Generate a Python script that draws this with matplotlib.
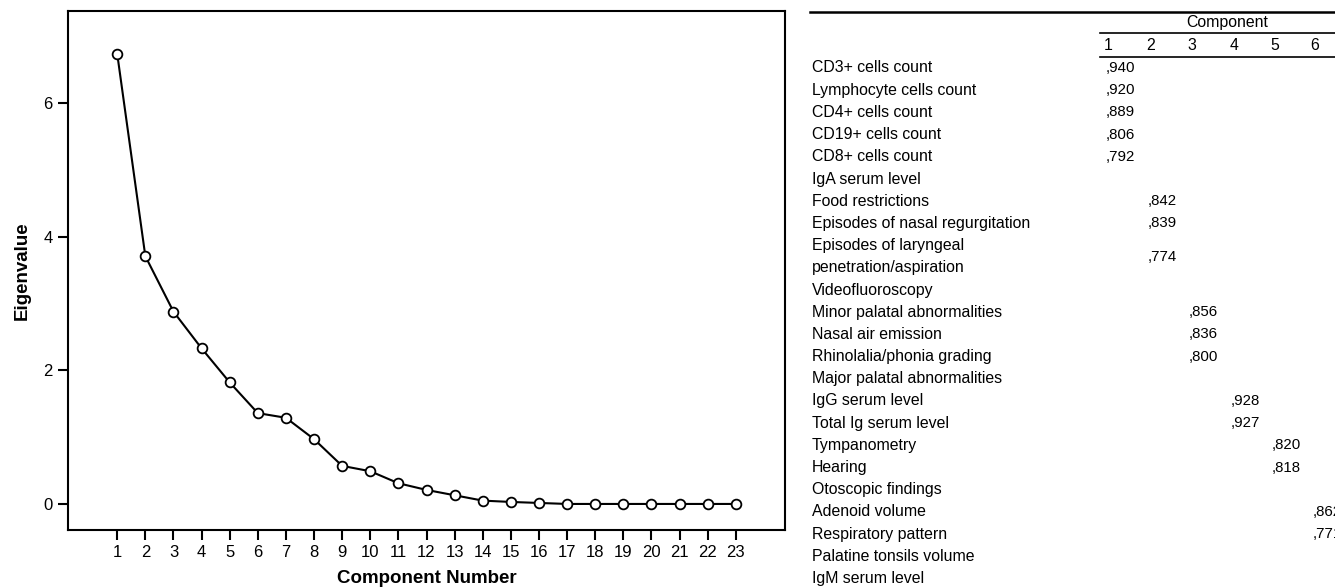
import matplotlib
matplotlib.use('Agg')
import matplotlib.pyplot as plt
from matplotlib.lines import Line2D

plt.rcParams['font.family'] = ['Liberation Sans', 'DejaVu Sans']

# scree plot data
components = list(range(1, 24))
eigenvalues = [6.74, 3.71, 2.88, 2.33, 1.82, 1.36, 1.29, 0.97, 0.57, 0.49,
               0.31, 0.21, 0.13, 0.05, 0.03, 0.015, 0.0, 0.0, 0.0, 0.0,
               0.0, 0.0, 0.0]
y_ticks = [0, 2, 4, 6]

# rotated component matrix
row_labels = ['CD3+ cells count', 'Lymphocyte cells count', 'CD4+ cells count',
              'CD19+ cells count', 'CD8+ cells count', 'IgA serum level',
              'Food restrictions', 'Episodes of nasal regurgitation',
              'Episodes of laryngeal\npenetration/aspiration', 'Videofluoroscopy',
              'Minor palatal abnormalities', 'Nasal air emission',
              'Rhinolalia/phonia grading', 'Major palatal abnormalities',
              'IgG serum level', 'Total Ig serum level', 'Tympanometry', 'Hearing',
              'Otoscopic findings', 'Adenoid volume', 'Respiratory pattern',
              'Palatine tonsils volume', 'IgM serum level']
row_component = [1, 1, 1, 1, 1, 0, 2, 2, 2, 0, 3, 3, 3, 0, 4, 4, 5, 5, 0, 6, 6, 0, 0]
row_loading = [',940', ',920', ',889', ',806', ',792', '', ',842', ',839', ',774', '',
               ',856', ',836', ',800', '', ',928', ',927', ',820', ',818', '',
               ',862', ',771', '', '']
header_numbers = ['1', '2', '3', '4', '5', '6']

W, H = 1335, 588
fig = plt.figure(figsize=(W / 100, H / 100), dpi=100)

def fx(px):
    return px / W

def fy(py):
    return 1 - py / H

ax = fig.add_axes([fx(68), fy(530), fx(785 - 68), (530 - 11) / H])
ax.plot(components, eigenvalues, color='black', lw=1.5, marker='o', ms=7,
        mfc='white', mec='black', mew=1.3)
ax.set_xlim(-0.75, 24.75)
ax.set_ylim(-0.39, 7.38)
ax.set_xticks(components)
ax.set_yticks(y_ticks)
ax.tick_params(axis='both', direction='out', length=7, width=1.5, labelsize=12,
               colors='black')
ax.tick_params(axis='x', pad=4)
ax.tick_params(axis='y', pad=4)
for s in ax.spines.values():
    s.set_linewidth(1.5)
ax.set_xlabel('Component Number', fontsize=13.5, fontweight='bold', labelpad=7)
ax.set_ylabel('Eigenvalue', fontsize=13.5, fontweight='bold', labelpad=9)

# table lines
fig.add_artist(Line2D([fx(810), fx(1335)], [fy(12), fy(12)], color='black', lw=1.8))
fig.add_artist(Line2D([fx(1100), fx(1335)], [fy(33), fy(33)], color='black', lw=1.2))
fig.add_artist(Line2D([fx(1100), fx(1335)], [fy(57), fy(57)], color='black', lw=1.2))

fs_lab = 11.4
fs_num = 10.8
fig.text(fx(1227), fy(22), 'Component', fontsize=fs_lab, ha='center', va='center')
head_x = [1104, 1146, 1187, 1230, 1270, 1310]
for hx, num in zip(head_x, header_numbers):
    fig.text(fx(hx), fy(45), num, fontsize=fs_lab, ha='left', va='center')

val_x = {1: 1106, 2: 1148, 3: 1189, 4: 1231, 5: 1272, 6: 1313}
step = 22.2
k = 0
for label, comp, val in zip(row_labels, row_component, row_loading):
    parts = label.split('\n')
    for i, part in enumerate(parts):
        fig.text(fx(812), fy(68 + step * (k + i)), part, fontsize=fs_lab,
                 ha='left', va='center')
    if comp:
        yc = 68 + step * (k + (len(parts) - 1) / 2)
        fig.text(fx(val_x[comp]), fy(yc), val, fontsize=fs_num, ha='left', va='center')
    k += len(parts)

fig.savefig('out.png', dpi=100)
